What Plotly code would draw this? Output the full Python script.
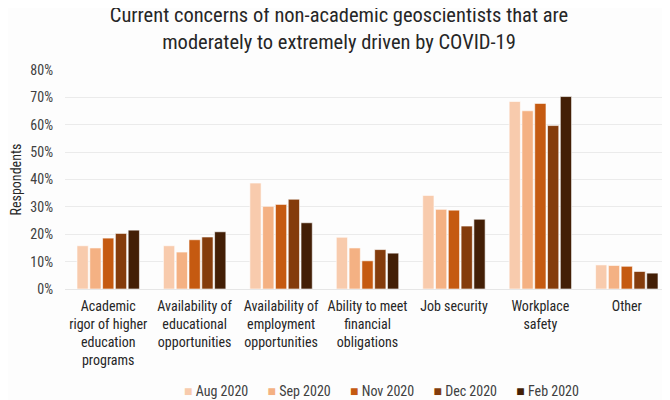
import plotly.graph_objects as go

categories = [
    "Academic<br>rigor of higher<br>education<br>programs",
    "Availability of<br>educational<br>opportunities",
    "Availability of<br>employment<br>opportunities",
    "Ability to meet<br>financial<br>obligations",
    "Job security",
    "Workplace<br>safety",
    "Other",
]
series_names = ["Aug 2020", "Sep 2020", "Nov 2020", "Dec 2020", "Feb 2020"]
aug_2020 = [0.158, 0.158, 0.387, 0.189, 0.342, 0.685, 0.088]
sep_2020 = [0.150, 0.135, 0.302, 0.150, 0.291, 0.651, 0.086]
nov_2020 = [0.186, 0.180, 0.309, 0.103, 0.288, 0.678, 0.083]
dec_2020 = [0.203, 0.190, 0.328, 0.144, 0.230, 0.597, 0.064]
feb_2020 = [0.215, 0.209, 0.242, 0.131, 0.255, 0.703, 0.058]
colors = ["#F8CBAD", "#F4B183", "#C55A11", "#843C0C", "#431F06"]

FONT = "Liberation Sans Narrow, Roboto Condensed, Roboto, sans-serif"

fig = go.Figure()
for name, vals, col in zip(series_names, [aug_2020, sep_2020, nov_2020, dec_2020, feb_2020], colors):
    fig.add_trace(go.Bar(
        x=categories, y=vals, name=name, showlegend=False,
        marker=dict(color=col, line=dict(color="rgba(255,255,255,0.6)", width=1)),
    ))

# compact legend drawn as one text line (series names + colours)
legend_text = "&nbsp;&nbsp;&nbsp;&nbsp;&nbsp;&nbsp;".join(
    f'<span style="color:{c}">■</span> {n}' for n, c in zip(series_names, colors)
)
fig.add_annotation(
    text=legend_text, xref="paper", yref="paper", x=0.5235, xanchor="center",
    y=-0.465, yanchor="middle", showarrow=False,
    font=dict(family=FONT, size=14, color="#404040"),
)

fig.update_layout(
    width=662, height=392,
    paper_bgcolor="#FDFDFD", plot_bgcolor="#FDFDFD",
    font=dict(family=FONT, size=13, color="#404040"),
    title=dict(
        text="Current concerns of non-academic geoscientists that are<br>moderately to extremely driven by COVID-19",
        x=0.5, xanchor="center", y=0.964, yanchor="top", yref="container",
        font=dict(family=FONT, size=20.5, color="#262626"),
    ),
    margin=dict(l=57, r=0, t=62, b=111, autoexpand=False),
    barmode="group", bargap=0.26, bargroupgap=0.12,
)
fig.update_yaxes(
    range=[0, 0.8], dtick=0.1, tickformat=".0%",
    gridcolor="#EBEBEB", gridwidth=1, zeroline=False,
    showline=False, ticks="", ticklen=0, automargin=False,
    tickfont=dict(size=14, color="#404040"), ticklabelstandoff=11,
    title=dict(text="Respondents", font=dict(size=14, color="#262626"), standoff=6),
)
fig.update_xaxes(
    showline=True, linecolor="#E6E6E6", linewidth=1, automargin=False,
    tickfont=dict(size=14, color="#262626"), ticks="", tickangle=0,
    ticklabelstandoff=4,
)

fig.write_html("out.html")
